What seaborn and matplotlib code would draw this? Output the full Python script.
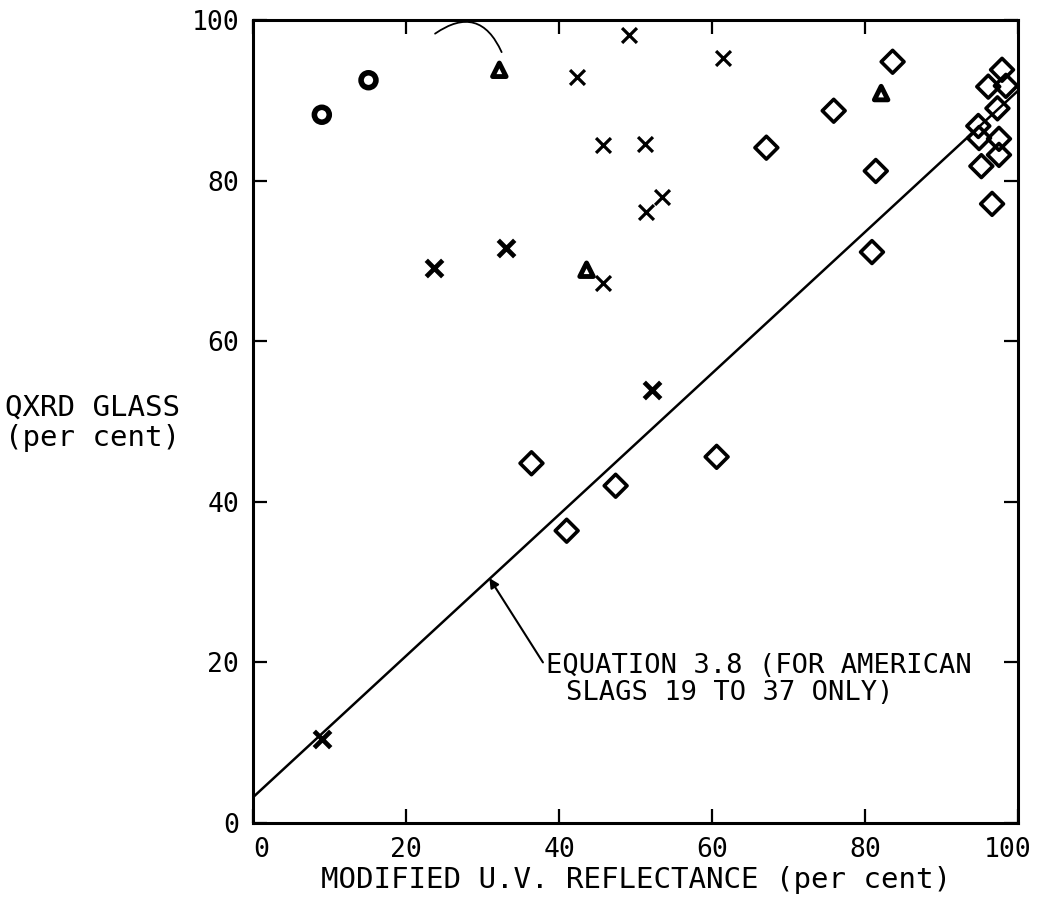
import numpy as np
import pandas as pd
import matplotlib
matplotlib.use("Agg")
import matplotlib.pyplot as plt
import matplotlib.transforms as mtransforms
import seaborn as sns

# ---- data ----
circle_x = [9.0, 15.1]
circle_y = [88.2, 92.5]

triangle_x = [32.2, 43.6, 82.1]
triangle_y = [93.8, 68.9, 90.9]

cross_bold_x = [9.0, 23.7, 33.1, 52.1]
cross_bold_y = [10.5, 69.1, 71.6, 53.9]

cross_x = [42.4, 49.1, 45.7, 45.7, 51.2, 51.4, 53.4, 61.4]
cross_y = [92.9, 98.1, 84.4, 67.2, 84.6, 76.1, 78.0, 95.3]

diamond_x = [36.4, 41.0, 47.4, 60.6, 67.1, 75.9, 83.6, 81.4, 80.9,
             97.9, 96.1, 98.4, 97.3, 94.8, 94.9, 97.5, 97.5, 95.2, 96.6]
diamond_y = [44.8, 36.4, 42.0, 45.6, 84.1, 88.7, 94.8, 81.2, 71.1,
             93.8, 91.7, 91.8, 89.0, 86.8, 85.3, 85.2, 83.2, 81.8, 77.1]

eq_intercept = 3.2
eq_slope = 0.88
eq_x = [0, 100]

x_ticks = [0, 20, 40, 60, 80, 100]
y_ticks = [0, 20, 40, 60, 80, 100]

x_label = "MODIFIED U.V. REFLECTANCE (per cent)"
y_label = "QXRD GLASS\n(per cent)"
eq_label_1 = "EQUATION 3.8 (FOR AMERICAN"
eq_label_2 = "SLAGS 19 TO 37 ONLY)"

# ---- style ----
sns.set_style("ticks")
plt.rcParams["font.family"] = ["DejaVu Sans Mono", "DejaVu Sans"]
plt.rcParams["text.color"] = "black"
plt.rcParams["axes.labelcolor"] = "black"

fig = plt.figure(figsize=(10.41, 9.09), dpi=100)
ax = fig.add_axes([0.243, 0.0946, 0.735, 0.8834])

# regression line
eq_df = pd.DataFrame({"x": eq_x,
                      "y": [eq_intercept + eq_slope * v for v in eq_x]})
sns.lineplot(data=eq_df, x="x", y="y", ax=ax, color="black", lw=1.8)

# markers
sns.scatterplot(x=diamond_x, y=diamond_y, ax=ax, marker="D", s=135,
                facecolor="none", edgecolor="black", linewidth=2.6)
sns.scatterplot(x=circle_x, y=circle_y, ax=ax, marker="o", s=115,
                facecolor="none", edgecolor="black", linewidth=4.0)
sns.scatterplot(x=triangle_x, y=triangle_y, ax=ax, marker="^", s=95,
                facecolor="none", edgecolor="black", linewidth=3.5)
sns.scatterplot(x=cross_bold_x, y=cross_bold_y, ax=ax, marker="x", s=140,
                color="black", linewidth=3.4)
sns.scatterplot(x=cross_x, y=cross_y, ax=ax, marker="x", s=115,
                color="black", linewidth=2.3)

# axes
ax.set_xlim(0, 100)
ax.set_ylim(0, 100)
ax.set_xticks(x_ticks)
ax.set_yticks(y_ticks)
ax.set_xticklabels([str(t) for t in x_ticks])
ax.set_yticklabels([str(t) for t in y_ticks])
ax.tick_params(axis="both", which="both", direction="in", length=10,
               width=1.6, top=True, right=True, labelsize=19, pad=10,
               colors="black")
for sp in ax.spines.values():
    sp.set_visible(True)
    sp.set_linewidth(2.2)
    sp.set_color("black")

# nudge the outer x tick labels inward like the reference
xl = ax.get_xticklabels()
xl[0].set_transform(xl[0].get_transform() +
                    mtransforms.ScaledTranslation(8 / 100, 0, fig.dpi_scale_trans))
xl[-1].set_transform(xl[-1].get_transform() +
                     mtransforms.ScaledTranslation(-10 / 100, 0, fig.dpi_scale_trans))

ax.set_xlabel(x_label, fontsize=21, labelpad=2)
ax.set_ylabel("")
fig.text(0.005, 0.535, y_label, fontsize=21, ha="left", va="center",
         linespacing=1.1)

# equation annotation
ax.annotate("", xy=(30.9, 30.5), xytext=(37.9, 20.0),
            arrowprops=dict(arrowstyle="-|>", color="black", lw=1.5,
                            mutation_scale=14, shrinkA=0, shrinkB=0))
ax.text(38.3, 19.6, eq_label_1, fontsize=19.5, ha="left", va="center")
ax.text(40.9, 16.2, eq_label_2, fontsize=19.5, ha="left", va="center")

# curved leader near top
ax.annotate("", xy=(32.5, 96.0), xytext=(23.8, 98.3),
            arrowprops=dict(arrowstyle="-", color="black", lw=1.3,
                            connectionstyle="arc3,rad=-0.6",
                            shrinkA=0, shrinkB=0),
            annotation_clip=False)

fig.savefig("out.png", dpi=100, facecolor="white")
